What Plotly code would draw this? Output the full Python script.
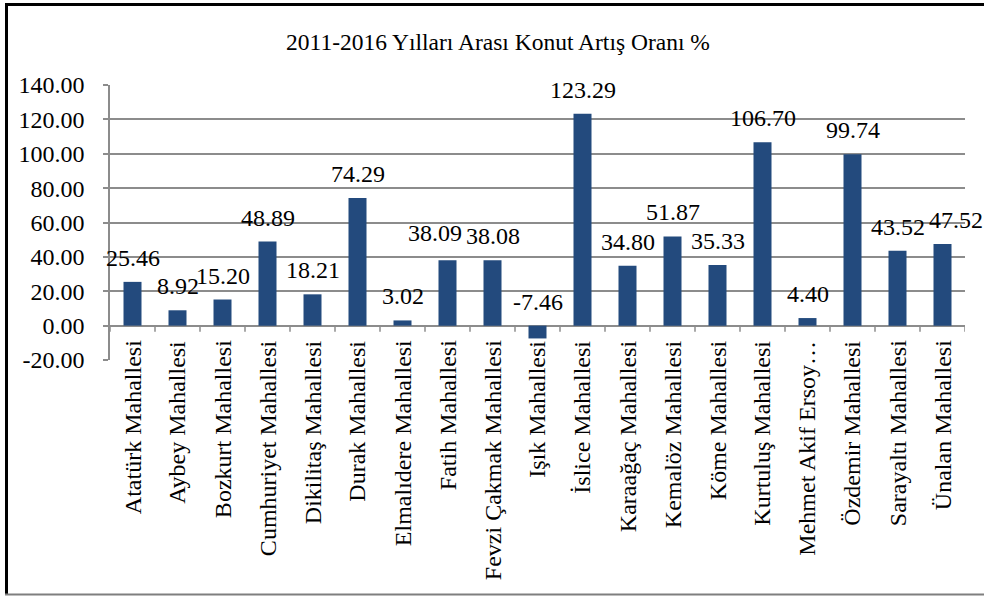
import plotly.graph_objects as go

# Neighbourhood names and housing growth rate (%) between 2011 and 2016
mahalleler = [
    "Atatürk Mahallesi", "Aybey Mahallesi", "Bozkurt Mahallesi",
    "Cumhuriyet Mahallesi", "Dikilitaş Mahallesi", "Durak Mahallesi",
    "Elmalıdere Mahallesi", "Fatih Mahallesi", "Fevzi Çakmak Mahallesi",
    "Işık Mahallesi", "İslice Mahallesi", "Karaağaç Mahallesi",
    "Kemalöz Mahallesi", "Köme Mahallesi", "Kurtuluş Mahallesi",
    "Mehmet Akif Ersoy…", "Özdemir Mahallesi", "Sarayaltı Mahallesi",
    "Ünalan Mahallesi",
]
artis_orani = [
    25.46, 8.92, 15.20, 48.89, 18.21, 74.29, 3.02, 38.09, 38.08, -7.46,
    123.29, 34.80, 51.87, 35.33, 106.70, 4.40, 99.74, 43.52, 47.52,
]
y_ticks = [-20, 0, 20, 40, 60, 80, 100, 120, 140]

FONT = "Liberation Serif"
BAR = "#234A7D"
GRID = "#8C8C8C"

n = len(mahalleler)
xs = list(range(n))

# small pixel nudges so crowded value labels do not collide
label_nudge = {7: (-13, 3), 18: (13, 0)}

fig = go.Figure()
fig.add_trace(go.Bar(
    x=xs, y=artis_orani, width=0.4,
    marker=dict(color=BAR, line=dict(width=0)),
    hoverinfo="skip",
))

annotations = []
# value labels above each bar (above the zero line for negatives)
for x, v in zip(xs, artis_orani):
    dx, dy = label_nudge.get(x, (0, 0))
    annotations.append(dict(
        x=x, y=max(v, 0), xref="x", yref="y", text=f"{v:.2f}",
        showarrow=False, xanchor="center", yanchor="middle",
        xshift=dx, yshift=24 + dy,
        font=dict(family=FONT, size=24, color="black"),
    ))
# category labels hanging from the zero axis
for x, name in zip(xs, mahalleler):
    annotations.append(dict(
        x=x, y=0, xref="x", yref="y", text=name, textangle=-90,
        showarrow=False, xanchor="center", yanchor="top", yshift=-13,
        font=dict(family=FONT, size=24, color="black"),
    ))

shapes = []
# category boundary tick marks on the zero axis
for i in range(n + 1):
    shapes.append(dict(
        type="line", xref="x", yref="y", x0=i - 0.5, x1=i - 0.5,
        y0=0, y1=-3.5, line=dict(color=GRID, width=1.5),
    ))

# outer chart frame (left, top, bottom edges)
L, R, T, B = 110, 965, 85, 360
W, H = R - L, B - T
def px(xp):
    return (xp - L) / W
def py(yp):
    return (B - yp) / H
shapes += [
    dict(type="line", xref="paper", yref="paper", x0=px(6.5), x1=px(6.5),
         y0=py(3), y1=py(595), line=dict(color="black", width=3)),
    dict(type="line", xref="paper", yref="paper", x0=px(5), x1=px(1000),
         y0=py(4.5), y1=py(4.5), line=dict(color="black", width=3)),
    dict(type="line", xref="paper", yref="paper", x0=px(5), x1=px(1000),
         y0=py(594.5), y1=py(594.5), line=dict(color="#7F7F7F", width=2)),
]

fig.update_layout(
    width=984, height=596,
    margin=dict(l=L, r=984 - R, t=T, b=596 - B),
    paper_bgcolor="white", plot_bgcolor="white",
    showlegend=False,
    title=dict(
        text="2011-2016 Yılları Arası Konut Artış Oranı %",
        x=498 / 984, xref="container", xanchor="center",
        y=1 - 42 / 596, yref="container", yanchor="middle",
        font=dict(family=FONT, size=23.5, color="black"),
    ),
    xaxis=dict(
        range=[-0.5, n - 0.5], showticklabels=False, showgrid=False,
        zeroline=False, showline=False, ticks="",
    ),
    yaxis=dict(
        range=[-20, 140], tickvals=y_ticks,
        ticktext=[f"{v:.2f}" for v in y_ticks],
        showgrid=True, gridcolor=GRID, gridwidth=1.5,
        zeroline=True, zerolinecolor=GRID, zerolinewidth=1.5,
        showline=True, linecolor=GRID, linewidth=1.5,
        ticks="outside", ticklen=5, tickcolor=GRID, tickwidth=1.5,
        ticklabelstandoff=14,
        tickfont=dict(family=FONT, size=24, color="black"),
    ),
    annotations=annotations,
    shapes=shapes,
    bargap=0.6,
)

fig.write_html("out.html")
